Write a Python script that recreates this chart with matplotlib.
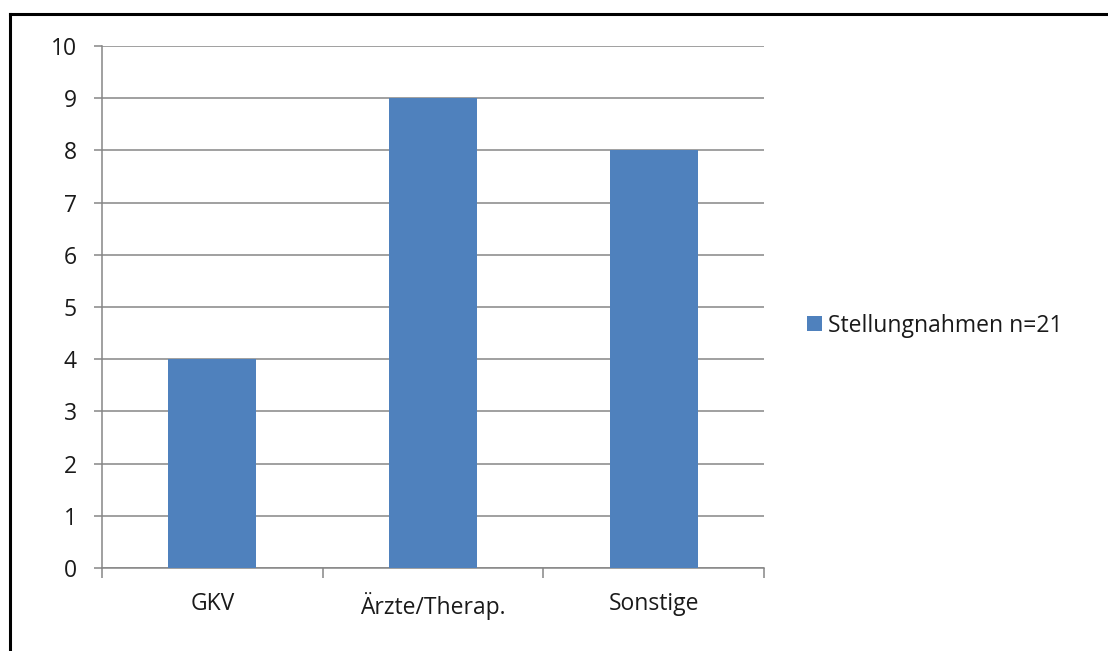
import matplotlib
matplotlib.use("Agg")
import matplotlib.pyplot as plt
from matplotlib.lines import Line2D

categories = ["GKV", "Ärzte/Therap.", "Sonstige"]
values = [4, 9, 8]
series_label = "Stellungnahmen n=21"
y_ticks = list(range(0, 11))

plt.rcParams["font.family"] = ["Open Sans", "DejaVu Sans"]
FS = 16.5

W, H = 1108, 651
fig = plt.figure(figsize=(W / 100, H / 100), dpi=100)
fig.patch.set_facecolor("white")

# frame around the chart area (top and left edges visible)
fig.add_artist(Line2D([9.5 / W, 9.5 / W], [0, 1 - 13.5 / H], transform=fig.transFigure,
                      color="black", lw=2.2, solid_capstyle="projecting"))
fig.add_artist(Line2D([9.5 / W, 1.0], [1 - 13.5 / H, 1 - 13.5 / H], transform=fig.transFigure,
                      color="black", lw=2.2, solid_capstyle="projecting"))

ax = fig.add_axes([102 / W, 1 - 568 / H, (764 - 102) / W, (568 - 46) / H])
grid_c = "#868686"

x = range(len(categories))
bars = ax.bar(x, values, width=0.4, color="#4F81BD", zorder=3, label=series_label)

ax.set_xlim(-0.5, len(categories) - 0.5)
ax.set_ylim(0, 10)
ax.set_yticks(y_ticks)
ax.set_yticklabels([str(t) for t in y_ticks], fontsize=FS, color="#1a1a1a")
ax.yaxis.grid(True, color=grid_c, lw=1.1, zorder=0)
ax.set_axisbelow(True)

ax.set_xticks([i + 0.5 for i in range(-1, len(categories))], minor=False)
ax.set_xticklabels([])
ax.set_xticks(list(x), minor=True)
ax.set_xticklabels(categories, minor=True, fontsize=FS, color="#1a1a1a")
ax.tick_params(axis="x", which="major", length=7, width=1.1, color=grid_c, direction="out")
ax.tick_params(axis="x", which="minor", length=0, pad=17)
ax.tick_params(axis="y", length=6, width=1.1, color=grid_c, direction="out", pad=12)

for side in ("top", "right"):
    ax.spines[side].set_visible(False)
for side in ("left", "bottom"):
    ax.spines[side].set_color(grid_c)
    ax.spines[side].set_linewidth(1.1)

fig.legend(handles=[bars], labels=[series_label], loc="center left",
           bbox_to_anchor=(807 / W, 1 - 325.5 / H), frameon=False, fontsize=FS,
           handlelength=0.65, handleheight=0.65, handletextpad=0.27,
           borderaxespad=0, borderpad=0, labelcolor="#1a1a1a")

fig.savefig("out.png", dpi=100, facecolor="white")
